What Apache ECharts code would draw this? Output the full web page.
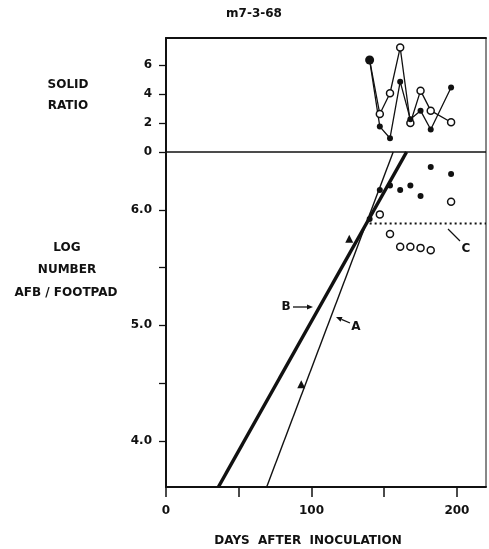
<!DOCTYPE html>
<html>
<head>
<meta charset="utf-8">
<title>m7-3-68</title>
<script src="https://cdn.jsdelivr.net/npm/echarts@6/dist/echarts.min.js"></script>
<style>
    html, body {margin: 0; padding: 0; background: #fff;}
    #main {width: 489px; height: 549px;}
</style>
</head>
<body>
<div id="main"></div>
<script>
// days after inoculation (weekly samples)
var days = [140, 147, 154, 161, 168, 175, 182, 196];

// solid ratio, upper panel
var ratioFilled = [6.34, 1.75, 0.95, 4.85, 2.25, 2.85, 1.55, 4.45];
var ratioOpen = [6.34, 2.62, 4.05, 7.2, 2.0, 4.23, 2.85, 2.05];

// log number AFB / footpad, lower panel
var logFilled = [5.92, 6.17, 6.21, 6.17, 6.21, 6.12, 6.37, 6.31];
var openDays = [147, 154, 161, 168, 175, 182, 196];
var logOpen = [5.96, 5.79, 5.68, 5.68, 5.67, 5.65, 6.07];
var triDays = [93, 126];
var logTri = [4.49, 5.75];

// fitted lines, end points at the axis limits
var lineA = [[69.2, 3.6], [156.2, 6.5]];
var lineB = [[36, 3.6], [165.4, 6.5]];
var lineC = [[140, 5.88], [220, 5.88]];

var ratioTicks = [0, 2, 4, 6];
var logTicks = [4, 4.5, 5, 5.5, 6];
var logLabels = [4, 5, 6];
var dayTicks = [0, 50, 100, 150, 200];
var dayLabels = [0, 100, 200];

var FONT = 'DejaVu Sans';
var INK = '#111';

function pairs(xs, ys) {
    var arr = [];
    for (var i = 0; i < xs.length; i++) {
        arr.push([xs[i], ys[i]]);
    }
    return arr;
}

var openRatio = pairs(days, ratioOpen);
// open curve starts from the shared first point
openRatio[0] = {value: openRatio[0], symbol: 'none'};
var filledRatio = pairs(days, ratioFilled);
filledRatio[0] = {value: filledRatio[0], symbolSize: 9};

var labelStyle = {fontFamily: FONT, fontWeight: 'bold', fontSize: 12, fill: INK};

function txt(x, y, s) {
    return {
        type: 'text', x: x, y: y, z: 10,
        style: Object.assign({text: s, align: 'center', verticalAlign: 'middle'}, labelStyle)
    };
}

function arrow(x1, y1, x2, y2) {
    // short leader with a small head at (x2, y2)
    var ang = Math.atan2(y2 - y1, x2 - x1), h = 6, w = 2.5;
    var bx = x2 - h * Math.cos(ang), by = y2 - h * Math.sin(ang);
    return [
        {type: 'line', shape: {x1: x1, y1: y1, x2: bx, y2: by}, style: {stroke: INK, lineWidth: 1.3}},
        {
            type: 'polygon',
            shape: {points: [[x2, y2],
                [bx - w * Math.sin(ang), by + w * Math.cos(ang)],
                [bx + w * Math.sin(ang), by - w * Math.cos(ang)]]},
            style: {fill: INK}
        }
    ];
}

var graphics = [
    txt(254, 14, 'm7-3-68'),
    txt(68, 85, 'SOLID'),
    txt(68, 106, 'RATIO'),
    txt(67, 248, 'LOG'),
    txt(67, 270, 'NUMBER'),
    txt(66, 293, 'AFB / FOOTPAD'),
    txt(308, 541, 'DAYS  AFTER  INOCULATION'),
    txt(286, 307, 'B'),
    txt(356, 327, 'A'),
    txt(466, 249, 'C'),
    {type: 'line', shape: {x1: 448, y1: 229, x2: 460, y2: 241}, style: {stroke: INK, lineWidth: 1.3}}
].concat(arrow(293, 307, 313, 307), arrow(350, 323, 336, 317));

var myChart = echarts.init(document.getElementById('main'), null, {renderer: 'canvas'});

var option = {
    backgroundColor: '#fff',
    animation: false,
    grid: [
        {left: 166, right: 3, top: 38, height: 114, show: true, borderColor: INK, borderWidth: 1},
        {left: 166, right: 3, top: 152, bottom: 62, show: true, borderColor: INK, borderWidth: 1}
    ],
    xAxis: [{
        gridIndex: 0, type: 'value', min: 0, max: 220, position: 'top',
        axisLine: {show: true, onZero: false, lineStyle: {color: INK, width: 2}},
        axisTick: {show: false}, axisLabel: {show: false}, splitLine: {show: false}
    }, {
        gridIndex: 1, type: 'value', min: 0, max: 220,
        axisLine: {show: true, onZero: false, lineStyle: {color: INK, width: 2}},
        axisTick: {show: true, length: 10, customValues: dayTicks, lineStyle: {color: INK, width: 1.5}},
        axisLabel: {
            customValues: dayLabels, margin: 18, color: INK,
            fontFamily: FONT, fontWeight: 'bold', fontSize: 12
        },
        splitLine: {show: false}
    }],
    yAxis: [{
        gridIndex: 0, type: 'value', min: 0, max: 7.86,
        axisLine: {show: true, onZero: false, lineStyle: {color: INK, width: 2}},
        axisTick: {show: true, length: 7, customValues: ratioTicks, lineStyle: {color: INK, width: 1.3}},
        axisLabel: {
            customValues: ratioTicks, margin: 14, color: INK,
            fontFamily: FONT, fontWeight: 'bold', fontSize: 12
        },
        splitLine: {show: false}
    }, {
        gridIndex: 1, type: 'value', min: 3.6, max: 6.5,
        axisLine: {show: true, onZero: false, lineStyle: {color: INK, width: 2}},
        axisTick: {show: true, length: 7, customValues: logTicks, lineStyle: {color: INK, width: 1.3}},
        axisLabel: {
            customValues: logLabels, margin: 14, color: INK,
            fontFamily: FONT, fontWeight: 'bold', fontSize: 12,
            formatter: function (v) { return v.toFixed(1); }
        },
        splitLine: {show: false}
    }],
    series: [{
        name: 'ratio open', type: 'line', xAxisIndex: 0, yAxisIndex: 0,
        data: openRatio, symbol: 'circle', symbolSize: 7, clip: false,
        lineStyle: {color: INK, width: 1.3},
        itemStyle: {color: '#fff', borderColor: INK, borderWidth: 1.5}
    }, {
        name: 'ratio filled', type: 'line', xAxisIndex: 0, yAxisIndex: 0,
        data: filledRatio, symbol: 'circle', symbolSize: 6,
        lineStyle: {color: INK, width: 1.3},
        itemStyle: {color: INK}
    }, {
        name: 'A', type: 'line', xAxisIndex: 1, yAxisIndex: 1,
        data: lineA, symbol: 'none', lineStyle: {color: INK, width: 1.4}
    }, {
        name: 'B', type: 'line', xAxisIndex: 1, yAxisIndex: 1,
        data: lineB, symbol: 'none', lineStyle: {color: INK, width: 3.5}
    }, {
        name: 'C', type: 'line', xAxisIndex: 1, yAxisIndex: 1,
        data: lineC, symbol: 'none', lineStyle: {color: INK, width: 2, type: [2, 3]}
    }, {
        name: 'log filled', type: 'scatter', xAxisIndex: 1, yAxisIndex: 1,
        data: pairs(days, logFilled), symbol: 'circle', symbolSize: 6,
        itemStyle: {color: INK, opacity: 1}
    }, {
        name: 'log open', type: 'scatter', xAxisIndex: 1, yAxisIndex: 1,
        data: pairs(openDays, logOpen), symbol: 'circle', symbolSize: 7,
        itemStyle: {color: '#fff', borderColor: INK, borderWidth: 1.5, opacity: 1}
    }, {
        name: 'triangles', type: 'scatter', xAxisIndex: 1, yAxisIndex: 1,
        data: pairs(triDays, logTri), symbol: 'triangle', symbolSize: 8,
        itemStyle: {color: INK, opacity: 1}
    }],
    graphic: graphics
};

myChart.setOption(option, true);
</script>
</body>
</html>
